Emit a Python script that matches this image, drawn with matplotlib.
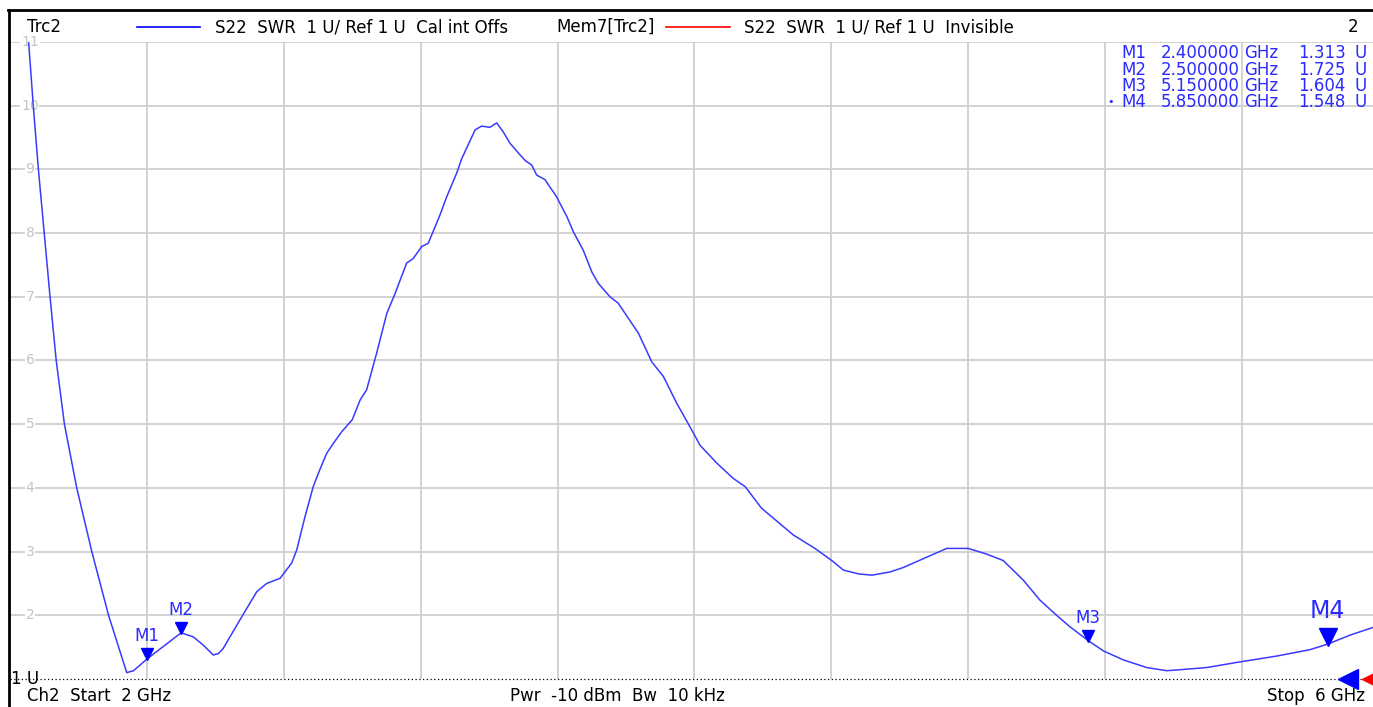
import numpy as np
import matplotlib
matplotlib.use("Agg")
import matplotlib.pyplot as plt
from matplotlib.lines import Line2D
from matplotlib import transforms

# --------------------------
# Data (S22 SWR, 2-6 GHz)
# --------------------------
freq_ghz = [
    2.054, 2.068, 2.083, 2.100, 2.117, 2.135, 2.159, 2.195, 2.239, 2.288,
    2.341, 2.361, 2.400, 2.500, 2.536, 2.565, 2.594, 2.609, 2.623, 2.672,
    2.721, 2.750, 2.789, 2.823, 2.838, 2.862, 2.886, 2.901, 2.925, 2.945,
    2.969, 3.000, 3.023, 3.042, 3.071, 3.101, 3.125, 3.159, 3.178, 3.203,
    3.222, 3.256, 3.276, 3.305, 3.320, 3.359, 3.378, 3.402, 3.422, 3.441,
    3.461, 3.490, 3.505, 3.524, 3.539, 3.563, 3.597, 3.627, 3.646, 3.675,
    3.700, 3.719, 3.753, 3.777, 3.836, 3.875, 3.909, 3.948, 3.997, 4.016,
    4.065, 4.113, 4.148, 4.196, 4.289, 4.352, 4.401, 4.435, 4.479, 4.518,
    4.571, 4.610, 4.669, 4.737, 4.800, 4.854, 4.902, 4.961, 5.009, 5.058,
    5.097, 5.150, 5.195, 5.253, 5.321, 5.380, 5.428, 5.497, 5.584, 5.701,
    5.798, 5.850, 5.916, 5.983, 6.000,
]
swr = [
    11.03, 10.0, 9.0, 8.0, 7.0, 6.0, 5.0, 4.0, 3.0, 2.0,
    1.10, 1.13, 1.313, 1.725, 1.66, 1.53, 1.377, 1.40, 1.48, 1.93,
    2.37, 2.50, 2.58, 2.82, 3.03, 3.55, 4.02, 4.23, 4.54, 4.70,
    4.88, 5.07, 5.38, 5.54, 6.11, 6.74, 7.05, 7.53, 7.60, 7.79,
    7.84, 8.28, 8.57, 8.94, 9.17, 9.62, 9.68, 9.66, 9.73, 9.59,
    9.41, 9.23, 9.14, 9.07, 8.91, 8.84, 8.57, 8.26, 8.02, 7.73,
    7.39, 7.21, 7.00, 6.90, 6.43, 5.98, 5.75, 5.33, 4.86, 4.67,
    4.39, 4.15, 4.02, 3.68, 3.26, 3.05, 2.86, 2.71, 2.65, 2.63,
    2.68, 2.75, 2.89, 3.05, 3.05, 2.96, 2.86, 2.55, 2.24, 2.00,
    1.82, 1.604, 1.44, 1.30, 1.18, 1.13, 1.15, 1.18, 1.26, 1.36,
    1.46, 1.548, 1.69, 1.81, 1.84,
]

marker_names = ["M1", "M2", "M3", "M4"]
marker_freq = [2.40, 2.50, 5.15, 5.85]
marker_swr = [1.313, 1.725, 1.604, 1.548]

x_ticks = np.arange(2.0, 6.001, 0.4)
y_ticks = np.arange(1, 12)
y_labels = [str(v) for v in y_ticks]

W, H = 1373, 707
BLUE = "#3a3aff"
TXT_BLUE = "#2a2aff"
GRID = "#cfcfcf"
FS = 12

fig = plt.figure(figsize=(W / 100, H / 100), dpi=100)
fig.patch.set_facecolor("white")

# plot area: x=10..1379 px (clipped at right), y=42..679 px
ax = fig.add_axes([10 / W, 1 - 679 / H, 1369 / W, 637 / H])
ax.set_xlim(2, 6)
ax.set_ylim(1, 11)
for s in ax.spines.values():
    s.set_visible(False)
ax.set_xticks(x_ticks)
ax.set_yticks(y_ticks[1:])
ax.tick_params(length=0, labelbottom=False, labelleft=False)
ax.grid(True, color=GRID, lw=1.3)
ax.set_axisbelow(True)

# dotted reference line at 1 U
ax.axhline(1, color="black", lw=0.9, ls=(0, (1, 2)), zorder=3, clip_on=False)

# y labels sitting on the grid lines
for v, lab in zip(y_ticks[1:], y_labels[1:]):
    ax.text(0.0146, v, lab, transform=ax.get_yaxis_transform(), ha="center",
            va="center", fontsize=10, color="#c4c4c4", zorder=2,
            bbox=dict(boxstyle="square,pad=0.05", fc="white", ec="none"))

# trace
ax.plot(freq_ghz, swr, color=BLUE, lw=1.1, zorder=4)

# markers: triangle tip sits on the trace
for name, f, v in zip(marker_names, marker_freq, marker_swr):
    big = name == "M4"
    ms = 13 if big else 9
    off = transforms.offset_copy(ax.transData, fig=fig, x=0, y=ms / 2.6, units="points")
    ax.plot([f], [v], marker="v", ms=ms, color="#0000ff", mec="#0000ff",
            transform=off, zorder=5, clip_on=False)
    ax.annotate(name, (f, v), xytext=(0, ms + (2 if big else 1)),
                textcoords="offset points", ha="center", va="bottom",
                fontsize=17 if big else FS, color=TXT_BLUE, zorder=5)

# reference level arrows at the right end
ax.plot([0.9774], [1], marker="<", ms=15, color="#0000ff", transform=ax.get_yaxis_transform(),
        clip_on=False, zorder=6)
ax.plot([0.9945], [1], marker="<", ms=13, color="#ff0000", transform=ax.get_yaxis_transform(),
        clip_on=False, zorder=5)

# header row
hy = 1 - 27 / H
fig.text(27 / W, hy, "Trc2", fontsize=FS, va="center")
fig.add_artist(Line2D([137 / W, 200 / W], [hy, hy], color="#0000ff", lw=1.2))
fig.text(215 / W, hy, "S22  SWR  1 U/ Ref 1 U  Cal int Offs", fontsize=FS, va="center")
fig.text(556 / W, hy, "Mem7[Trc2]", fontsize=FS, va="center")
fig.add_artist(Line2D([666 / W, 730 / W], [hy, hy], color="#ff0000", lw=1.2))
fig.text(744 / W, hy, "S22  SWR  1 U/ Ref 1 U  Invisible", fontsize=FS, va="center")
fig.text(1358 / W, hy, "2", fontsize=FS, va="center", ha="right")

# marker readout table
rows_y = [53, 70, 86, 102]
for name, f, v, py in zip(marker_names, marker_freq, marker_swr, rows_y):
    y = 1 - py / H
    fig.text(1121 / W, y, name, fontsize=FS, color=TXT_BLUE, va="center", ha="left")
    fig.text(1240 / W, y, f"{f:.6f}", fontsize=FS, color=TXT_BLUE, va="center", ha="right")
    fig.text(1244 / W, y, "GHz", fontsize=FS, color=TXT_BLUE, va="center", ha="left")
    fig.text(1346 / W, y, f"{v:.3f}", fontsize=FS, color=TXT_BLUE, va="center", ha="right")
    fig.text(1354 / W, y, "U", fontsize=FS, color=TXT_BLUE, va="center", ha="left")
fig.text(1111 / W, 1 - 102 / H, "•", fontsize=8, color=TXT_BLUE, va="center", ha="center")

# bottom labels
fig.text(11 / W, 1 - 679 / H, "1 U", fontsize=FS, va="center")
fy = 1 - 696 / H
fig.text(27 / W, fy, "Ch2  Start  2 GHz", fontsize=FS, va="center")
fig.text(617 / W, fy, "Pwr  -10 dBm  Bw  10 kHz", fontsize=FS, va="center", ha="center")
fig.text(1365 / W, fy, "Stop  6 GHz", fontsize=FS, va="center", ha="right")

# black screen frame (top and left)
fig.add_artist(Line2D([8 / W, 1], [1 - 10 / H, 1 - 10 / H], color="black", lw=2))
fig.add_artist(Line2D([9 / W, 9 / W], [0, 1 - 10 / H], color="black", lw=2))

fig.savefig("out.png", dpi=100)
